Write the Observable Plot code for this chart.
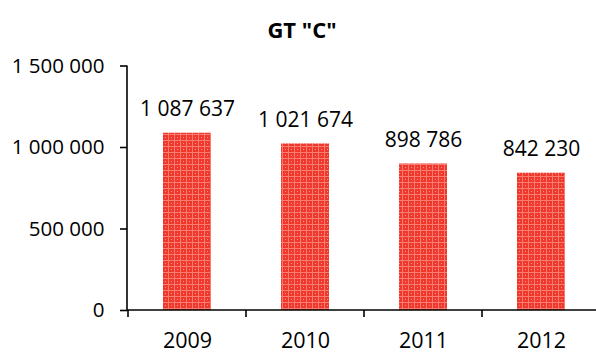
<!DOCTYPE html>
<html>
<head>
<meta charset="utf-8">
<script src="https://cdn.jsdelivr.net/npm/d3@7"></script>
<script src="https://cdn.jsdelivr.net/npm/@observablehq/plot@0.6"></script>
<style>
  body { margin: 0; background: #fff; }
  #title { height: 50px; box-sizing: border-box; padding-top: 14px; padding-left: 8px;
           font: bold 22px "Open Sans", sans-serif; text-align: center; line-height: normal; color: #000; }
  svg { display: block; }
</style>
</head>
<body>
<div id="title">GT "C"</div>
<div id="chart"></div>
<script>
const years = ["2009", "2010", "2011", "2012"];
const values = [1087637, 1021674, 898786, 842230];
const yTicks = [0, 500000, 1000000, 1500000];

const data = years.map((year, i) => ({year, value: values[i]}));
const fmt = v => d3.format(",")(v).replace(/,/g, " ");

const axisLines = (index, scales) => {
  const {x, y} = scales;
  const g = d3.create("svg:g").attr("stroke", "#000").attr("stroke-width", 1.6).attr("fill", "none");
  const [x0, x1] = x.range();
  const y0 = y(0), yTop = y(1500000);
  g.append("line").attr("x1", x0).attr("x2", x1).attr("y1", y0).attr("y2", y0);
  g.append("line").attr("x1", x0).attr("x2", x0).attr("y1", yTop).attr("y2", y0);
  const off = (x.step() - x.bandwidth()) / 2;
  const bounds = x.domain().map(d => x(d) - off).concat([x(x.domain().at(-1)) - off + x.step()]);
  for (const b of bounds) g.append("line").attr("x1", b).attr("x2", b).attr("y1", y0).attr("y2", y0 + 7);
  return g.node();
};

const chart = Plot.plot({
  width: 596,
  height: 303,
  marginTop: 15.5, marginBottom: 43, marginLeft: 127, marginRight: 0,
  style: {fontFamily: "Open Sans, sans-serif", color: "#000", background: "#fff", overflow: "visible"},
  x: {domain: years, range: [127, 600], paddingInner: 0.594, paddingOuter: 0.297, axis: null},
  y: {domain: [0, 1500000], range: [260, 15.5], axis: null},
  marks: [
    Plot.barY(data, {x: "year", y: "value", fill: "#ef3e33", className: "bars"}),
    Plot.text(data, {x: "year", y: "value", text: d => fmt(d.value), lineAnchor: "bottom", dy: -17,
      fontSize: 21, fill: "#000"}),
    Plot.axisY({ticks: yTicks, tickFormat: fmt, tickSize: 7, tickPadding: 16, fontSize: 20.5,
      stroke: "#000", strokeWidth: 1.6, label: null, anchor: "left"}),
    Plot.axisX({tickSize: 0, tickPadding: 22, fontSize: 21.5, label: null, anchor: "bottom"}),
    axisLines
  ]
});

const svg = d3.select(chart);
const defs = svg.insert("defs", ":first-child");
const pat = defs.append("pattern").attr("id", "redgrid").attr("patternUnits", "userSpaceOnUse")
  .attr("width", 6).attr("height", 6);
pat.append("rect").attr("width", 6).attr("height", 6).attr("fill", "#f0382c");
pat.append("rect").attr("x", 0).attr("y", 0).attr("width", 6).attr("height", 1).attr("fill", "#f57d72");
pat.append("rect").attr("x", 0).attr("y", 0).attr("width", 1).attr("height", 6).attr("fill", "#f57d72");
pat.append("rect").attr("x", 3).attr("y", 3).attr("width", 1).attr("height", 1).attr("fill", "#f7958c");
svg.selectAll(".bars rect").attr("fill", "url(#redgrid)");

document.getElementById("chart").appendChild(chart);
</script>
</body>
</html>
